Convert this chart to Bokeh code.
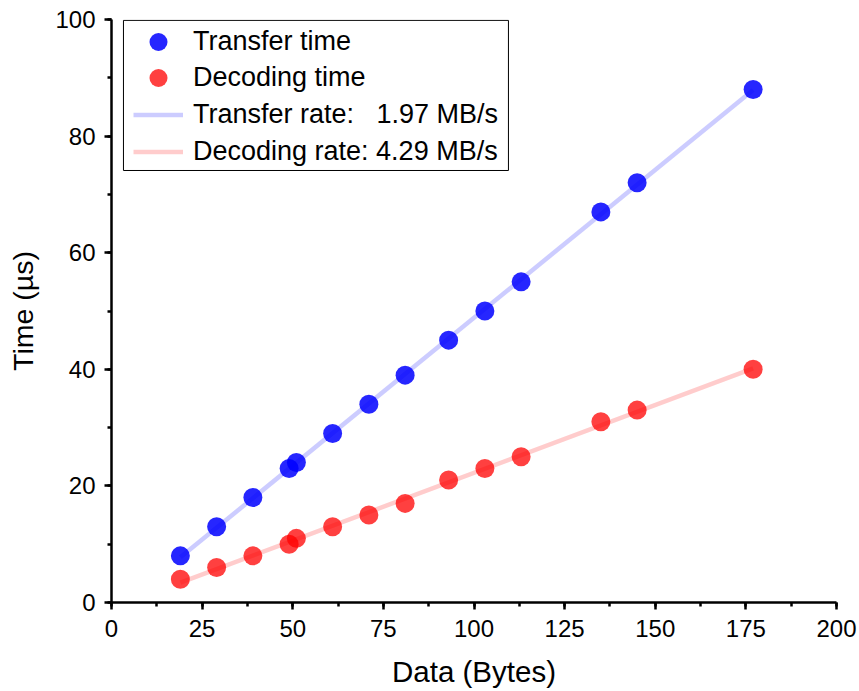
import numpy as np
from bokeh.plotting import figure
from bokeh.models import Range1d, SingleIntervalTicker, Legend, LegendItem, BoxAnnotation
from bokeh.embed import file_html
from bokeh.resources import INLINE

data_bytes = [19, 29, 39, 49, 51, 61, 71, 81, 93, 103, 113, 135, 145, 177]
transfer_time = [8, 13, 18, 23, 24, 29, 34, 39, 45, 50, 55, 67, 72, 88]
decoding_time = [4, 6, 8, 10, 11, 13, 15, 17, 21, 23, 25, 31, 33, 40]

x_ticks_interval = 25
y_ticks_interval = 20

FONT = "Liberation Sans"

p = figure(width=859, height=691, output_backend="svg", toolbar_location=None,
           x_range=Range1d(0, 200), y_range=Range1d(0, 100),
           min_border_left=111, min_border_right=23, min_border_top=19, min_border_bottom=89)
p.outline_line_color = None
p.grid.visible = False
p.background_fill_color = "white"
p.border_fill_color = "white"

# legend frame (drawn separately so the legend markers can be larger)
p.add_layout(BoxAnnotation(left=3.3, right=109.5, top=99.85, bottom=74.1,
                           fill_color="white", fill_alpha=1.0,
                           line_color="black", line_width=1, line_alpha=1.0))

xs = np.array(data_bytes, dtype=float)
xfit = np.array([xs.min(), xs.max()])
ct = np.polyfit(xs, np.array(transfer_time, dtype=float), 1)
cd = np.polyfit(xs, np.array(decoding_time, dtype=float), 1)

l1 = p.line(xfit, np.polyval(ct, xfit), line_color="#0000ff", line_alpha=0.2, line_width=4.5)
l2 = p.line(xfit, np.polyval(cd, xfit), line_color="#ff0000", line_alpha=0.2, line_width=4.5)
s1 = p.scatter(data_bytes, transfer_time, size=19, fill_color="#0000ff", fill_alpha=0.85, line_color=None)
s2 = p.scatter(data_bytes, decoding_time, size=19, fill_color="#ff0000", fill_alpha=0.75, line_color=None)

for ax in (p.xaxis[0], p.yaxis[0]):
    ax.axis_line_width = 2.5
    ax.major_tick_line_width = 2.5
    ax.minor_tick_line_width = 2.5
    ax.major_tick_in = 0
    ax.major_tick_out = 7
    ax.minor_tick_in = 0
    ax.minor_tick_out = 4
    ax.axis_line_color = "black"
    ax.major_tick_line_color = "black"
    ax.minor_tick_line_color = "black"
    ax.major_label_text_font = FONT
    ax.major_label_text_font_size = "24px"
    ax.major_label_text_color = "black"
    ax.axis_label_text_font = FONT
    ax.axis_label_text_font_style = "normal"
    ax.axis_label_text_color = "black"

p.xaxis.axis_label_text_font_size = "29.5px"
p.yaxis.axis_label_text_font_size = "28.5px"
p.xaxis.ticker = SingleIntervalTicker(interval=x_ticks_interval, num_minor_ticks=2)
p.yaxis.ticker = SingleIntervalTicker(interval=y_ticks_interval, num_minor_ticks=2)
p.xaxis.axis_label = "Data (Bytes)"
p.yaxis.axis_label = "Time (µs)"
p.xaxis.major_label_standoff = 10
p.yaxis.major_label_standoff = 9
p.xaxis.axis_label_standoff = 15
p.yaxis.axis_label_standoff = 13

labels = ["Transfer time", "Decoding time",
          "Transfer rate:\u00a0\u00a0 1.97 MB/s", "Decoding rate: 4.29 MB/s"]
renderers = [s1, s2, l1, l2]
glyph_h = [45, 45, 37, 37]
row_center_from_top = [22, 58, 95, 132]   # pixels below the frame top
frame_h = 691 - 19 - 89

for lab, r, gh, rc in zip(labels, renderers, glyph_h, row_center_from_top):
    lg = Legend(items=[LegendItem(label=lab, renderers=[r])],
                location=(22, frame_h - rc - gh / 2))
    lg.glyph_width = 50
    lg.glyph_height = gh
    lg.label_height = 20
    lg.spacing = 0
    lg.padding = 0
    lg.margin = 0
    lg.label_standoff = 10
    lg.label_text_font = FONT
    lg.label_text_font_size = "27px"
    lg.label_text_color = "black"
    lg.border_line_color = None
    lg.background_fill_alpha = 0
    p.add_layout(lg)

open("out.html", "w").write(file_html(p, INLINE))
